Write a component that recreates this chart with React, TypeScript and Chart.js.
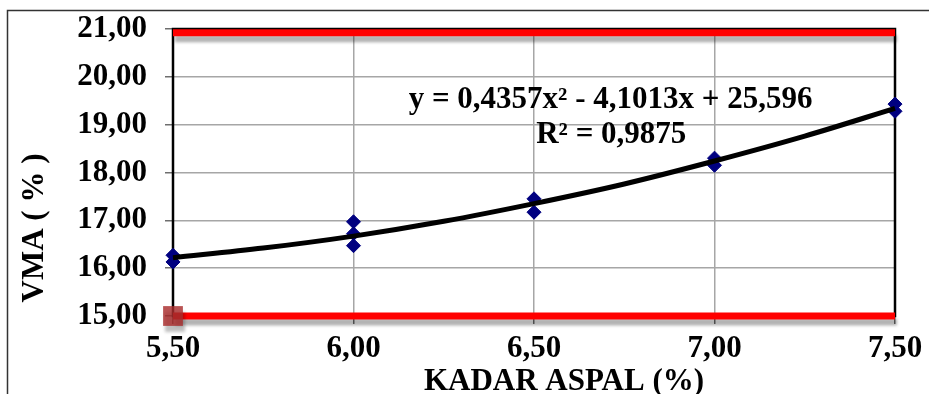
import React, { useEffect, useRef } from 'react';
import { Chart, registerables } from 'chart.js';

Chart.register(...registerables);

// Measured points (KADAR ASPAL %, VMA %)
const kadarAspal = [5.5, 5.5, 6.0, 6.0, 6.0, 6.5, 6.5, 7.0, 7.0, 7.5, 7.5];
const vmaValues = [16.27, 16.13, 16.97, 16.72, 16.47, 17.45, 17.17, 18.3, 18.15, 19.43, 19.28];

// Polynomial trendline
const trendX = [5.5, 5.75, 6.0, 6.25, 6.5, 6.75, 7.0, 7.25, 7.5];
const trendY = [16.22, 16.42, 16.67, 16.98, 17.35, 17.76, 18.24, 18.76, 19.34];

// Specification limit lines
const limitX = [5.5, 7.5];
const upperLimit = [20.92, 20.92];
const lowerLimit = [15, 15];

const yMin = 15;
const yMax = 21;
const yStep = 1;
const xMin = 5.5;
const xMax = 7.5;
const xStep = 0.5;

const equationText = 'y = 0,4357x\u00B2 - 4,1013x + 25,596';
const r2Text = 'R\u00B2 = 0,9875';
const xTitle = 'KADAR ASPAL (%)';
const yTitle = 'VMA ( % )';

const FONT = 'Liberation Serif';
const fmt = (v: number) => v.toFixed(2).replace('.', ',');

const toXY = (xs: number[], ys: number[]) => xs.map((x, i) => ({ x, y: ys[i] }));

const decorPlugin = {
  id: 'decor',
  beforeDraw(chart: any) {
    const { ctx, width, height } = chart;
    ctx.save();
    ctx.fillStyle = '#ffffff';
    ctx.fillRect(0, 0, width, height);
    // outer chart-area frame
    ctx.strokeStyle = '#333333';
    ctx.lineWidth = 1.5;
    ctx.beginPath();
    ctx.moveTo(7.5, height);
    ctx.lineTo(7.5, 10.5);
    ctx.lineTo(width, 10.5);
    ctx.stroke();
    ctx.restore();
  },
  beforeDatasetsDraw(chart: any) {
    const { ctx, chartArea: a } = chart;
    ctx.save();
    ctx.strokeStyle = '#000000';
    ctx.lineWidth = 2.5;
    ctx.strokeRect(a.left, a.top, a.right - a.left, a.bottom - a.top);
    ctx.restore();
  },
  beforeDatasetDraw(chart: any, args: any) {
    const ds = chart.data.datasets[args.index];
    if (ds.shadow) {
      const ctx = chart.ctx;
      ctx.save();
      ctx.shadowColor = 'rgba(0,0,0,0.3)';
      ctx.shadowOffsetX = 2;
      ctx.shadowOffsetY = 6;
      ctx.shadowBlur = 3;
    }
  },
  afterDatasetDraw(chart: any, args: any) {
    const ds = chart.data.datasets[args.index];
    if (ds.shadow) chart.ctx.restore();
  },
  afterDraw(chart: any) {
    const { ctx, chartArea: a } = chart;
    const w = a.right - a.left;
    ctx.save();
    ctx.fillStyle = '#000000';
    ctx.font = `bold 31px "${FONT}"`;
    ctx.textAlign = 'center';
    ctx.textBaseline = 'alphabetic';
    ctx.fillText(equationText, a.left + w * 0.606, 108);
    ctx.fillText(r2Text, a.left + w * 0.607, 143);
    ctx.fillText(xTitle, 564, 390);
    ctx.translate(43, 228);
    ctx.rotate(-Math.PI / 2);
    ctx.fillText(yTitle, 0, 0);
    ctx.restore();
  },
};

export default function App() {
  const ref = useRef<HTMLCanvasElement | null>(null);

  useEffect(() => {
    document.body.style.margin = '0';
    const canvas = ref.current;
    if (!canvas) return;
    const tickFont = { family: FONT, size: 31, weight: 'bold' as const };
    const chart = new Chart(canvas, {
      type: 'scatter',
      data: {
        datasets: [
          {
            label: 'trend',
            data: toXY(trendX, trendY),
            showLine: true,
            borderColor: '#000000',
            borderWidth: 5,
            pointRadius: 0,
            cubicInterpolationMode: 'monotone',
            order: 1,
            clip: false,
          } as any,
          {
            label: 'VMA',
            data: toXY(kadarAspal, vmaValues),
            showLine: false,
            pointStyle: 'rectRot',
            pointRadius: 7,
            backgroundColor: '#000080',
            borderColor: '#000080',
            borderWidth: 1,
            order: 2,
            clip: false,
          },
          {
            label: 'min',
            data: toXY(limitX, lowerLimit),
            showLine: true,
            borderColor: '#ff0000',
            borderWidth: 7,
            pointStyle: 'rect',
            pointRadius: [14, 0],
            backgroundColor: 'rgba(170,45,45,0.82)',
            pointBorderWidth: 0,
            order: 3,
            clip: false,
            shadow: true,
          } as any,
          {
            label: 'max',
            data: toXY(limitX, upperLimit),
            showLine: true,
            borderColor: '#ff0000',
            borderWidth: 7,
            pointRadius: 0,
            order: 4,
            clip: false,
            shadow: true,
          } as any,
        ],
      },
      options: {
        animation: false,
        responsive: false,
        maintainAspectRatio: false,
        layout: { padding: { top: 29, right: 34, left: 0, bottom: 0 } },
        plugins: {
          legend: { display: false },
          tooltip: { enabled: false },
        },
        scales: {
          x: {
            type: 'linear',
            min: xMin,
            max: xMax,
            ticks: {
              stepSize: xStep,
              font: tickFont,
              color: '#000000',
              padding: 6,
              maxRotation: 0,
              callback: (v: any) => fmt(Number(v)),
            },
            grid: {
              color: '#a6a6a6',
              lineWidth: 1.5,
              tickLength: 8,
              tickColor: '#6e6e6e',
            },
            border: { display: false },
            afterFit: (s: any) => {
              s.height = 78;
              s.paddingLeft = 0;
              s.paddingRight = 0;
            },
          },
          y: {
            type: 'linear',
            min: yMin,
            max: yMax,
            ticks: {
              stepSize: yStep,
              font: tickFont,
              color: '#000000',
              padding: 18,
              callback: (v: any) => fmt(Number(v)),
            },
            grid: {
              color: '#a6a6a6',
              lineWidth: 1.5,
              tickLength: 8,
              tickColor: '#6e6e6e',
            },
            border: { display: false },
            afterFit: (s: any) => {
              s.width = 173;
              s.paddingTop = 0;
              s.paddingBottom = 0;
            },
          },
        },
      },
      plugins: [decorPlugin],
    });
    return () => chart.destroy();
  }, []);

  return (
    <div style={{ width: 929, height: 394 }}>
      <canvas ref={ref} width={929} height={394} style={{ display: 'block' }} />
    </div>
  );
}
